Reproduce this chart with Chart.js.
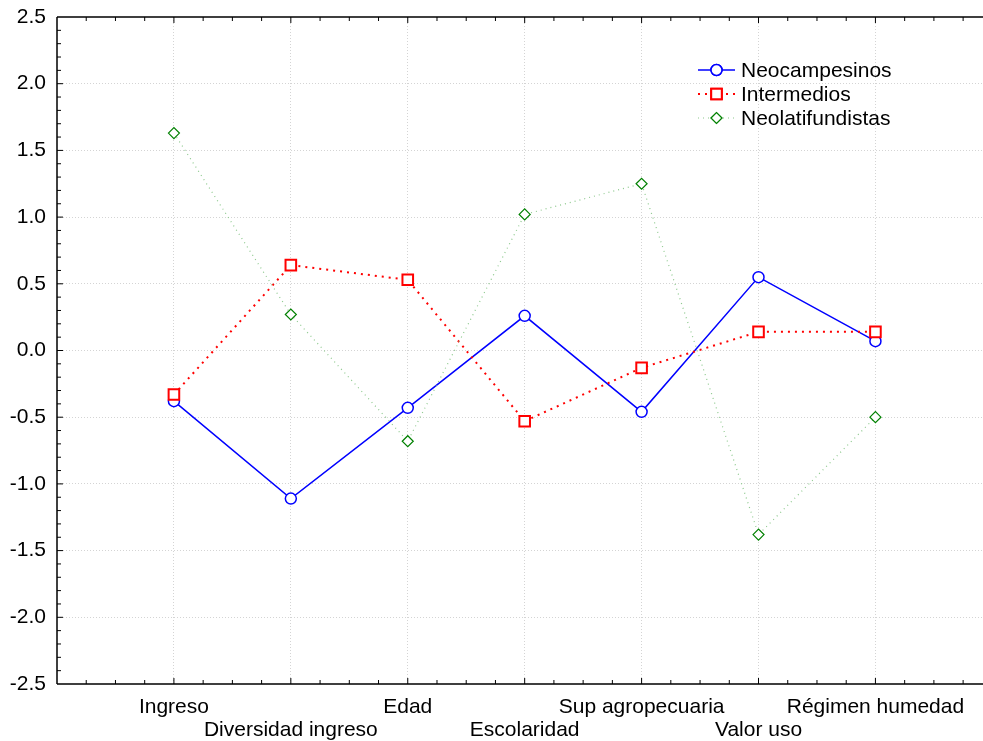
<!DOCTYPE html>
<html>
<head>
<meta charset="utf-8">
<script src="https://cdn.jsdelivr.net/npm/chart.js@4.4.0/dist/chart.umd.min.js"></script>
<style>
    html, body { margin: 0; padding: 0; background: #fff; overflow: hidden; }
    #wrap { width: 983px; height: 741px; }
    canvas { display: block; }
</style>
</head>
<body>
<div id="wrap"><canvas id="profile_chart" width="983" height="741"></canvas></div>
<script>
const categories = ['Ingreso', 'Diversidad ingreso', 'Edad', 'Escolaridad', 'Sup agropecuaria', 'Valor uso', 'Régimen humedad'];
const neocampesinos = [-0.38, -1.11, -0.43, 0.26, -0.46, 0.55, 0.07];
const intermedios = [-0.33, 0.64, 0.53, -0.53, -0.13, 0.14, 0.14];
const neolatifundistas = [1.63, 0.27, -0.68, 1.02, 1.25, -1.38, -0.50];
const yTicks = [-2.5, -2.0, -1.5, -1.0, -0.5, 0.0, 0.5, 1.0, 1.5, 2.0, 2.5];

const FONT = 'Liberation Sans, Arial, sans-serif';

function toPoints(values) {
    return values.map((v, i) => ({ x: i + 1, y: v }));
}

// frame + inner tick marks (top / bottom / left), no right border
const framePlugin = {
    id: 'frame',
    afterDraw(chart) {
        const { ctx, chartArea: a } = chart;
        const xs = chart.scales.x;
        const ys = chart.scales.y;
        ctx.save();
        ctx.strokeStyle = '#000';
        ctx.lineWidth = 1.5;
        ctx.beginPath();
        ctx.moveTo(a.left, a.top);
        ctx.lineTo(a.left, a.bottom);
        ctx.moveTo(a.left, a.bottom);
        ctx.lineTo(a.right, a.bottom);
        ctx.moveTo(a.left, a.top);
        ctx.lineTo(a.right, a.top);
        ctx.stroke();

        ctx.lineWidth = 1;
        ctx.beginPath();
        for (let k = 1; k < 40; k++) {
            const v = k * 0.25;
            const px = xs.getPixelForValue(v);
            if (px > a.right) break;
            const len = (k % 4 === 0) ? 6 : 4;
            ctx.moveTo(px, a.bottom);
            ctx.lineTo(px, a.bottom - len);
            ctx.moveTo(px, a.top);
            ctx.lineTo(px, a.top + len);
        }
        for (let k = -24; k <= 24; k++) {
            const v = k / 10;
            const py = ys.getPixelForValue(v);
            const len = (k % 5 === 0) ? 6 : 4;
            ctx.moveTo(a.left, py);
            ctx.lineTo(a.left + len, py);
        }
        ctx.stroke();
        ctx.restore();
    }
};

// legend drawn inside the plot, line sample + marker
const legendPlugin = {
    id: 'innerLegend',
    afterDraw(chart) {
        const { ctx } = chart;
        const x0 = 698, x1 = 735, tx = 741;
        const rows = [70, 94, 118];
        ctx.save();
        chart.data.datasets.forEach((ds, i) => {
            const y = rows[i];
            ctx.strokeStyle = ds.borderColor;
            ctx.lineWidth = ds.borderWidth;
            ctx.setLineDash(ds.borderDash || []);
            ctx.beginPath();
            ctx.moveTo(x0, y);
            ctx.lineTo(x1, y);
            ctx.stroke();
            ctx.setLineDash([]);
            Chart.helpers.drawPoint(ctx, {
                pointStyle: ds.pointStyle,
                radius: ds.pointRadius,
                borderWidth: ds.pointBorderWidth,
                rotation: 0
            }, (x0 + x1) / 2, y);
            ctx.fillStyle = ds.pointBackgroundColor;
            ctx.strokeStyle = ds.pointBorderColor;
            ctx.lineWidth = ds.pointBorderWidth;
            ctx.fill();
            ctx.stroke();
            ctx.fillStyle = '#000';
            ctx.font = '21px ' + FONT;
            ctx.textBaseline = 'middle';
            ctx.textAlign = 'left';
            ctx.fillText(ds.label, tx, y + 1);
        });
        ctx.restore();
    }
};

const ctx = document.getElementById('profile_chart').getContext('2d');

new Chart(ctx, {
    type: 'line',
    data: {
        datasets: [{
            label: 'Neocampesinos',
            data: toPoints(neocampesinos),
            borderColor: '#0000ff',
            borderWidth: 1.5,
            pointStyle: 'circle',
            pointRadius: 5.5,
            pointBorderWidth: 1.5,
            pointBorderColor: '#0000ff',
            pointBackgroundColor: '#ffffff',
            order: 2
        }, {
            label: 'Intermedios',
            data: toPoints(intermedios),
            borderColor: '#ff0000',
            borderWidth: 2,
            borderDash: [2, 5],
            pointStyle: 'rect',
            pointRadius: 7.5,
            pointBorderWidth: 2,
            pointBorderColor: '#ff0000',
            pointBackgroundColor: '#ffffff',
            order: 1
        }, {
            label: 'Neolatifundistas',
            data: toPoints(neolatifundistas),
            borderColor: '#8cc88c',
            borderWidth: 1.2,
            borderDash: [1, 4],
            pointStyle: 'rectRot',
            pointRadius: 5.5,
            pointBorderWidth: 1.2,
            pointBorderColor: '#008000',
            pointBackgroundColor: '#ffffff',
            order: 0
        }]
    },
    options: {
        responsive: false,
        animation: false,
        layout: { autoPadding: false, padding: { top: 17, right: 0, left: 0, bottom: 0 } },
        plugins: {
            legend: { display: false },
            tooltip: { enabled: false }
        },
        elements: { line: { tension: 0 } },
        scales: {
            x: {
                type: 'linear',
                min: 0,
                max: 7.92,
                afterBuildTicks: axis => {
                    axis.ticks = categories.map((c, i) => ({ value: i + 1 }));
                },
                afterFit: scale => {
                    scale.height = 57;
                    scale.paddingLeft = 0;
                    scale.paddingRight = 0;
                },
                grid: {
                    color: '#d4d4d4',
                    lineWidth: 1,
                    drawTicks: false
                },
                border: { display: false, dash: [1, 2] },
                ticks: {
                    autoSkip: false,
                    maxRotation: 0,
                    padding: 12,
                    color: '#000',
                    font: { family: FONT, size: 21, lineHeight: 1.1 },
                    callback: value => {
                        const i = Math.round(value) - 1;
                        const name = categories[i] || '';
                        return i % 2 === 0 ? [name, ''] : ['', name];
                    }
                }
            },
            y: {
                min: -2.5,
                max: 2.5,
                afterBuildTicks: axis => {
                    axis.ticks = yTicks.map(v => ({ value: v }));
                },
                afterFit: scale => {
                    scale.width = 57;
                    scale.paddingTop = 0;
                    scale.paddingBottom = 0;
                },
                grid: {
                    color: ctx => (Math.abs(ctx.tick.value) === 2.5 ? 'rgba(0,0,0,0)' : '#d4d4d4'),
                    lineWidth: 1,
                    drawTicks: false
                },
                border: { display: false, dash: [1, 2] },
                ticks: {
                    padding: 11,
                    color: '#000',
                    font: { family: FONT, size: 21 },
                    callback: value => value.toFixed(1)
                }
            }
        }
    },
    plugins: [framePlugin, legendPlugin]
});
</script>
</body>
</html>
